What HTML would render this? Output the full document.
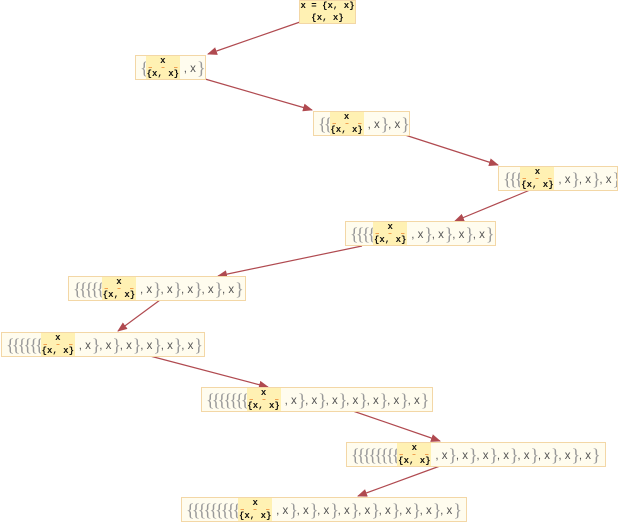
<!DOCTYPE html>
<html><head><meta charset="utf-8"><style>
body{margin:0;width:624px;height:524px;background:#fff;position:relative;overflow:hidden;font-family:"Liberation Sans",sans-serif}
.n{position:absolute;height:25px;border:1px solid #f3d7a6;background:#fffcee;display:flex;align-items:center;box-sizing:border-box;padding-left:4px;white-space:nowrap;font-size:11.5px;color:#555;overflow:hidden}
.o{display:inline-block;width:5.8px;font-family:"Liberation Serif",serif;color:#999;font-size:18px;line-height:18px;overflow:visible;flex:none}
.f{background:#fff1b3;height:100%;width:34px;box-sizing:border-box;display:flex;flex-direction:column;align-items:center;justify-content:center;font-family:"Liberation Mono",monospace;font-weight:bold;font-size:9px;line-height:10px;color:#111;flex:none}
.f i{display:block;width:100%;height:1px;background:linear-gradient(90deg,transparent 8%,#f0a050 8%,#f0a050 18%,transparent 18%,transparent 45%,#f0a050 45%,#f0a050 55%,transparent 55%,transparent 82%,#f0a050 82%,#f0a050 92%,transparent 92%);margin:1px 0}
.s{display:inline-block;width:20.5px;flex:none;padding-left:4px;box-sizing:border-box}
.s b{font-weight:normal;font-family:"Liberation Serif",serif;color:#999;font-size:18px;line-height:18px;margin-left:1px;vertical-align:-2px}
svg{position:absolute;left:0;top:0}
</style></head><body>
<svg width="624" height="524"><defs><marker id="a" markerWidth="10" markerHeight="8" refX="9" refY="4" orient="auto" markerUnits="userSpaceOnUse"><path d="M0,0L10,4L0,8z" fill="#b04a50"/></marker></defs>
<g stroke="#b04a50" stroke-width="1.2" marker-end="url(#a)">
<line x1="300" y1="22" x2="208" y2="54"/>
<line x1="205" y1="79" x2="312" y2="110"/>
<line x1="405" y1="135" x2="498" y2="165"/>
<line x1="530" y1="190" x2="455" y2="221"/>
<line x1="362" y1="246" x2="218" y2="276"/>
<line x1="160" y1="300" x2="118" y2="331"/>
<line x1="150" y1="356" x2="268" y2="387"/>
<line x1="350" y1="410" x2="440" y2="441"/>
<line x1="440" y1="466" x2="358" y2="496"/>
</g></svg>
<div class="n" style="left:299px;top:0;width:57px;height:24px;padding:0;background:#fff1b3"><div class="f" style="width:100%"><span>x = {x, x}</span><i></i><span>{x, x}</span></div></div>
<div class="n" style="left:135px;top:55px;width:71px"><span class="o">{</span><div class="f"><span>x</span><i></i><span>{x, x}</span></div><span class="s">, x<b>}</b></span></div>
<div class="n" style="left:313px;top:111px;width:97px"><span class="o">{</span><span class="o">{</span><div class="f"><span>x</span><i></i><span>{x, x}</span></div><span class="s">, x<b>}</b></span><span class="s">, x<b>}</b></span></div>
<div class="n" style="left:498px;top:166px;width:120px"><span class="o">{</span><span class="o">{</span><span class="o">{</span><div class="f"><span>x</span><i></i><span>{x, x}</span></div><span class="s">, x<b>}</b></span><span class="s">, x<b>}</b></span><span class="s">, x<b>}</b></span></div>
<div class="n" style="left:345px;top:221px;width:151px"><span class="o">{</span><span class="o">{</span><span class="o">{</span><span class="o">{</span><div class="f"><span>x</span><i></i><span>{x, x}</span></div><span class="s">, x<b>}</b></span><span class="s">, x<b>}</b></span><span class="s">, x<b>}</b></span><span class="s">, x<b>}</b></span></div>
<div class="n" style="left:68px;top:276px;width:178px"><span class="o">{</span><span class="o">{</span><span class="o">{</span><span class="o">{</span><span class="o">{</span><div class="f"><span>x</span><i></i><span>{x, x}</span></div><span class="s">, x<b>}</b></span><span class="s">, x<b>}</b></span><span class="s">, x<b>}</b></span><span class="s">, x<b>}</b></span><span class="s">, x<b>}</b></span></div>
<div class="n" style="left:1px;top:332px;width:204px"><span class="o">{</span><span class="o">{</span><span class="o">{</span><span class="o">{</span><span class="o">{</span><span class="o">{</span><div class="f"><span>x</span><i></i><span>{x, x}</span></div><span class="s">, x<b>}</b></span><span class="s">, x<b>}</b></span><span class="s">, x<b>}</b></span><span class="s">, x<b>}</b></span><span class="s">, x<b>}</b></span><span class="s">, x<b>}</b></span></div>
<div class="n" style="left:201px;top:387px;width:232px"><span class="o">{</span><span class="o">{</span><span class="o">{</span><span class="o">{</span><span class="o">{</span><span class="o">{</span><span class="o">{</span><div class="f"><span>x</span><i></i><span>{x, x}</span></div><span class="s">, x<b>}</b></span><span class="s">, x<b>}</b></span><span class="s">, x<b>}</b></span><span class="s">, x<b>}</b></span><span class="s">, x<b>}</b></span><span class="s">, x<b>}</b></span><span class="s">, x<b>}</b></span></div>
<div class="n" style="left:346px;top:442px;width:260px"><span class="o">{</span><span class="o">{</span><span class="o">{</span><span class="o">{</span><span class="o">{</span><span class="o">{</span><span class="o">{</span><span class="o">{</span><div class="f"><span>x</span><i></i><span>{x, x}</span></div><span class="s">, x<b>}</b></span><span class="s">, x<b>}</b></span><span class="s">, x<b>}</b></span><span class="s">, x<b>}</b></span><span class="s">, x<b>}</b></span><span class="s">, x<b>}</b></span><span class="s">, x<b>}</b></span><span class="s">, x<b>}</b></span></div>
<div class="n" style="left:181px;top:497px;width:286px"><span class="o">{</span><span class="o">{</span><span class="o">{</span><span class="o">{</span><span class="o">{</span><span class="o">{</span><span class="o">{</span><span class="o">{</span><span class="o">{</span><div class="f"><span>x</span><i></i><span>{x, x}</span></div><span class="s">, x<b>}</b></span><span class="s">, x<b>}</b></span><span class="s">, x<b>}</b></span><span class="s">, x<b>}</b></span><span class="s">, x<b>}</b></span><span class="s">, x<b>}</b></span><span class="s">, x<b>}</b></span><span class="s">, x<b>}</b></span><span class="s">, x<b>}</b></span></div>
</body></html>
